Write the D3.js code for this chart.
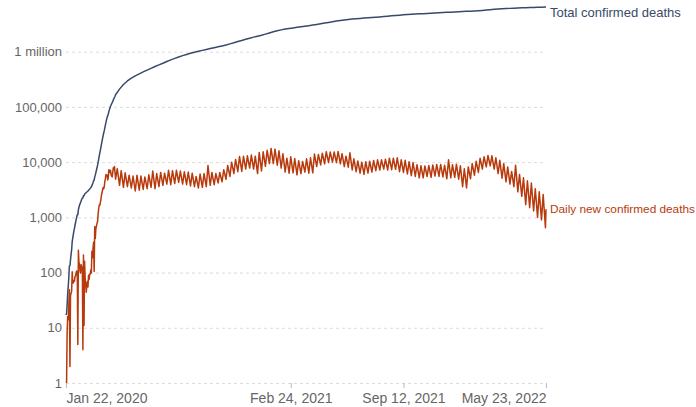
<!DOCTYPE html>
<html><head><meta charset="utf-8">
<script src="https://cdn.jsdelivr.net/npm/d3@7"></script>
<style>
body{margin:0;background:#fff;}
svg{display:block;font-family:"Liberation Sans",Arial,sans-serif;}
</style>
</head><body>
<svg id="chart" width="696" height="407"></svg>
<script>
// ---------- DATA ----------
const startDate = "2020-01-22";
const endDate = "2022-05-23";
const weekStart = "2020-04-19"; // first Sunday of weekly low/high section

// Total confirmed deaths, daily Jan 22 – Apr 18, 2020
const totalEarly = [17,18,26,42,56,82,131,133,171,213,
  259,362,426,492,564,634,719,806,906,1013,1113,1118,1371,1523,1666,1770,1868,2007,2122,2247,2251,2458,2469,2629,2708,2770,2814,2872,2941,
  2996,3085,3160,3254,3348,3460,3558,3802,3988,4262,4615,4720,5404,5819,6440,7126,7905,8733,9867,11299,12973,14623,16497,18615,21181,23970,27198,30652,33925,37582,42107,
  47180,53167,58787,64606,69374,74565,81865,88338,95455,102525,108503,114091,119482,125983,133900,141200,149500,156000];
// Total confirmed deaths, each Sunday from Apr 19, 2020
const totalWeekly = [
  166000,210000,254000,295000,332000,366000,396000,430000,463000,500000,
  540000,577000,618000,665000,710000,756000,802000,848000,891000,934000,
  975000,1016000,1056000,1097000,1140000,1183000,1226000,1273000,1324000,1385000,
  1450000,1525000,1600000,1675000,1755000,1835000,1905000,1980000,2080000,2185000,
  2290000,2390000,2485000,2570000,2640000,2700000,2760000,2820000,2885000,2955000,
  3030000,3115000,3205000,3300000,3395000,3490000,3585000,3675000,3750000,3820000,
  3895000,3955000,4010000,4060000,4110000,4160000,4215000,4270000,4330000,4400000,
  4465000,4530000,4590000,4645000,4700000,4750000,4800000,4845000,4890000,4935000,
  4980000,5025000,5070000,5115000,5160000,5205000,5250000,5295000,5335000,5375000,
  5420000,5470000,5525000,5600000,5685000,5770000,5850000,5920000,5980000,6035000,
  6090000,6145000,6200000,6240000,6280000,6315000,6345000,6370000,6395000,6420000];
const totalLast = 6423000;

// Daily new confirmed deaths, daily Jan 23 – Apr 18, 2020
const dailyEarly = [1,8,16,14,26,49,2,38,42,
  46,103,64,66,72,70,85,87,100,107,100,5,253,152,143,104,98,139,115,125,4,207,11,160,79,62,44,58,69,
  55,89,75,94,94,112,98,244,186,274,353,105,684,415,621,686,779,828,1134,1432,1674,1650,1874,2118,2566,2789,3228,3454,3273,3657,4525,
  5073,5987,5620,5819,4768,5191,7300,6473,7117,7070,5978,5588,5391,6501,7900,7300,8300,6500];
// Weekly low (Sunday) values from Apr 19, 2020
const dailyWeeklyLow = [
  4900,3800,3500,3600,3400,3000,3100,3200,3300,3500,
  3300,3600,3800,4000,3900,4100,4300,4000,3900,3700,
  3600,3400,3500,3600,3800,3900,4200,4400,4900,5500,
  6200,6700,6800,7500,7800,7500,6200,6900,8400,9400,
  9400,8800,7800,6600,6300,6400,5900,6200,6600,6300,
  6400,8300,8900,9300,9800,10000,9800,9300,8300,8100,
  7200,6700,6300,6000,6300,6600,7000,7200,7500,7200,
  7300,7400,6700,6500,6100,5700,5500,5200,5200,5500,
  5300,5600,5500,5400,5000,5200,5300,4900,3600,3400,
  5000,5800,6500,7500,8200,8600,7500,6200,5100,4400,
  4000,3600,2900,2400,1700,1500,1300,1000,900,650];
// Weekly high (Wednesday) values from Apr 22, 2020
const dailyWeeklyHigh = [
  7600,7000,6400,5800,5600,5800,5600,5400,5900,6900,
  6200,6500,6300,7100,7000,7100,6900,6700,6600,6300,
  5500,6100,6200,8700,6500,6200,6500,7300,8700,10000,
  11200,12700,12800,13000,13400,12800,15000,15400,16400,17700,
  17200,16000,14200,11800,12500,11600,10600,10300,11500,12000,
  14000,13800,14500,15500,15200,15300,15600,14200,12800,14800,
  11500,10500,10000,10200,10400,10700,11000,11000,11300,11800,
  11800,12000,11000,10800,10200,9800,9000,8600,8500,8700,
  8900,9100,9100,8800,11000,9000,9200,8600,7600,8200,
  9400,10400,11800,12500,13200,13000,12000,10800,9400,8200,
  6800,8800,6000,5200,4600,4200,3300,2900,2600];
const dailyLast = 1400;

const yTicks = [1,10,100,1000,10000,100000,1000000];
const yTickLabels = ["1","10","100","1,000","10,000","100,000","1 million"];
const xTicks = ["2020-01-22","2021-02-24","2021-09-12","2022-05-23"];
const seriesNames = ["Total confirmed deaths","Daily new confirmed deaths"];
const seriesColors = ["#374a69","#b8390b"];

// ---------- BUILD ----------
const parse = d3.utcParse("%Y-%m-%d");
const DAY = 864e5;
const t0 = parse(startDate), w0 = parse(weekStart), tEnd = parse(endDate);
const addDays = (t, n) => new Date(t.getTime() + n * DAY);

const total = totalEarly.map((v, i) => ({date: addDays(t0, i), value: v}))
  .concat(totalWeekly.map((v, k) => ({date: addDays(w0, 7 * k), value: v})))
  .concat([{date: tEnd, value: totalLast}]);

const daily = dailyEarly.map((v, i) => ({date: addDays(t0, i + 1), value: v}));
dailyWeeklyLow.forEach((v, k) => {
  daily.push({date: addDays(w0, 7 * k), value: v});
  if (k < dailyWeeklyHigh.length) daily.push({date: addDays(w0, 7 * k + 3), value: dailyWeeklyHigh[k]});
});
daily.push({date: tEnd, value: dailyLast});

const svg = d3.select("#chart");
const x = d3.scaleUtc().domain([t0, tEnd]).range([66, 546]);
const y = d3.scaleLog().domain([1, 1e6]).range([383, 51.7]);

// y axis + grid
const yAxis = d3.axisLeft(y).tickValues(yTicks)
  .tickFormat((d, i) => yTickLabels[i]).tickSize(-480).tickPadding(4);
const gy = svg.append("g").attr("transform", "translate(66,0)").call(yAxis);
gy.select(".domain").remove();
gy.selectAll(".tick line").attr("stroke", "#dcdcdc").attr("stroke-dasharray", "3,3");
gy.selectAll(".tick text").attr("fill", "#666").attr("font-size", 13)
  .attr("font-family", "'Liberation Sans',Arial,sans-serif");

// x axis
const xDates = xTicks.map(parse);
const xAxis = d3.axisBottom(x).tickValues(xDates)
  .tickFormat(d3.utcFormat("%b %-d, %Y")).tickSize(5).tickPadding(5);
const gx = svg.append("g").attr("transform", "translate(0,383)").call(xAxis);
gx.select(".domain").remove();
gx.selectAll(".tick line").attr("stroke", "#bbb");
gx.selectAll(".tick text").attr("fill", "#666").attr("font-size", 14)
  .attr("font-family", "'Liberation Sans',Arial,sans-serif")
  .attr("text-anchor", (d, i) => i === 0 ? "start" : (i === xDates.length - 1 ? "end" : "middle"));

// lines
const line = d3.line().x(d => x(d.date)).y(d => y(d.value));
[total, daily].forEach((s, i) => {
  svg.append("path").datum(s).attr("fill", "none")
    .attr("stroke", seriesColors[i]).attr("stroke-width", 1.5)
    .attr("stroke-linejoin", "round").attr("d", line);
});

// end labels
const lastVals = [totalLast, dailyLast];
const labelSizes = [13, 11.8];
lastVals.forEach((v, i) => {
  svg.append("text").attr("x", 550).attr("y", Math.max(y(v), 12)).attr("dy", "0.35em")
    .attr("fill", seriesColors[i]).attr("font-size", labelSizes[i])
    .text(seriesNames[i]);
});
</script>
</body></html>
